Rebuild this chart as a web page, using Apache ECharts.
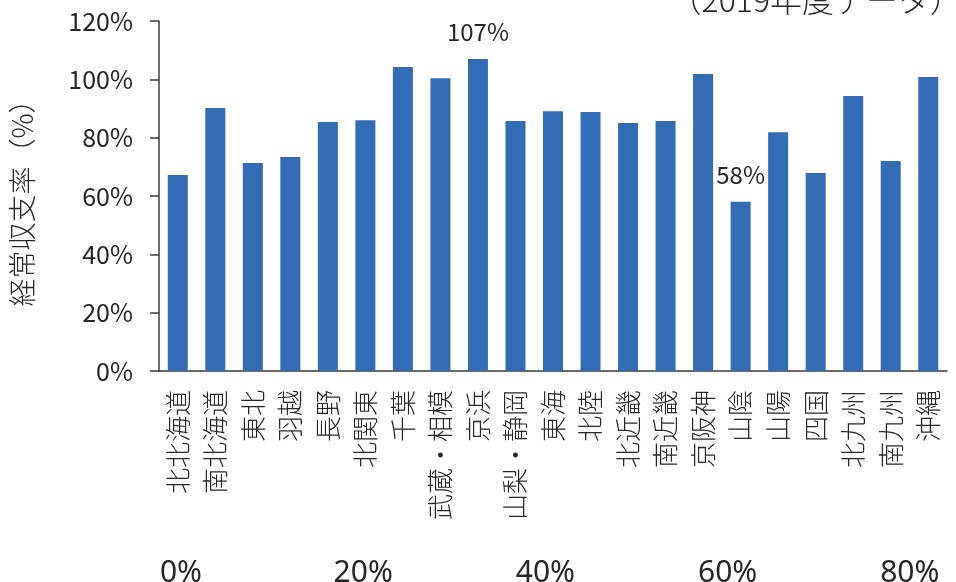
<!DOCTYPE html>
<html>
<head>
<meta charset="utf-8">
<script src="https://cdn.jsdelivr.net/npm/echarts@6/dist/echarts.min.js"></script>
<style>
html,body{margin:0;padding:0;background:#fff;}
#chart{width:956px;height:582px;}
</style>
</head>
<body>
<div id="chart"></div>
<script>
// Service areas (x categories)
const regions = ['北北海道','南北海道','東北','羽越','長野','北関東','千葉','武蔵・相模','京浜','山梨・静岡','東海','北陸','北近畿','南近畿','京阪神','山陰','山陽','四国','北九州','南九州','沖縄'];
// Ordinary income/expense ratio per area (%)
const ratios = [67.2, 90.2, 71.3, 73.4, 85.4, 86.0, 104.2, 100.4, 107, 85.7, 89.1, 88.8, 85.0, 85.7, 101.8, 58, 81.9, 67.9, 94.3, 72.0, 100.8];
// Areas whose value is written above the bar (highest and lowest)
const labelledRegions = ['京浜', '山陰'];
// Value-axis range (%)
const yMin = 0, yMax = 120, yStep = 20;
// Tick labels of the lower scale strip
const stripTicks = ['0%', '20%', '40%', '60%', '80%'];
const noteText = '（2019年度データ）';
const axisTitle = '経常収支率（%）';

const JP = '"Noto Sans CJK JP", "Noto Sans", sans-serif';
const TXT = '#262626';
const AX = '#3a3a3a';
const BAR = '#326CB5';

const chart = echarts.init(document.getElementById('chart'), null, {renderer: 'canvas'});

const barData = ratios.map((v, i) => {
  const item = {value: v};
  if (labelledRegions.includes(regions[i])) {
    item.label = {
      show: true, position: 'top', distance: 15,
      formatter: p => Math.round(p.value) + '%',
      fontSize: 24, color: TXT, fontFamily: JP
    };
  }
  return item;
});

const stripGraphics = stripTicks.map((t, i) => ({
  type: 'text',
  x: 181 + i * 182.2,
  y: 573,
  style: {
    text: t, fill: TXT, fontSize: 30,
    fontFamily: '"Liberation Sans Narrow", "Noto Sans", sans-serif',
    textAlign: 'center', textVerticalAlign: 'middle'
  }
}));

chart.setOption({
  animation: false,
  backgroundColor: '#fff',
  grid: {left: 157, right: 9, top: 21, bottom: 211, containLabel: false},
  xAxis: {
    type: 'category',
    data: regions,
    axisLine: {show: true, lineStyle: {color: AX, width: 1.5}},
    axisTick: {show: false},
    axisLabel: {
      rotate: 90, margin: 19, interval: 0,
      fontSize: 26, fontWeight: 300, color: TXT, fontFamily: JP
    },
    splitLine: {show: false}
  },
  yAxis: {
    type: 'value',
    min: yMin, max: yMax, interval: yStep,
    name: axisTitle,
    nameLocation: 'middle',
    nameRotate: 90,
    nameGap: 123,
    nameTextStyle: {fontSize: 28, fontWeight: 300, color: TXT, fontFamily: JP},
    axisLine: {show: true, lineStyle: {color: AX, width: 1.5}},
    axisTick: {show: true, inside: false, length: 9, lineStyle: {color: AX, width: 1.5}},
    axisLabel: {
      formatter: '{value}%', margin: 26,
      fontSize: 25, color: TXT, fontFamily: JP
    },
    splitLine: {show: false}
  },
  series: [{
    type: 'bar',
    data: barData,
    barWidth: 20,
    itemStyle: {color: BAR},
    label: {show: false}
  }],
  graphic: [
    {
      type: 'text',
      x: 962, y: 0,
      style: {
        text: noteText, fill: TXT, fontSize: 32, fontWeight: 300, fontFamily: JP,
        textAlign: 'right', textVerticalAlign: 'middle'
      }
    }
  ].concat(stripGraphics)
});
</script>
</body>
</html>
